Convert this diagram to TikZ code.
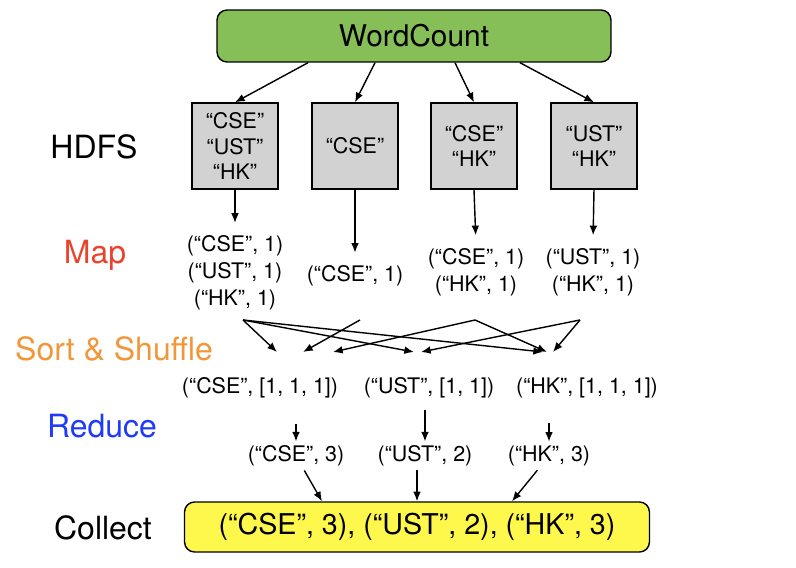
\documentclass[tikz,border=0pt]{standalone}
\usepackage{fontspec}
\setmainfont{TeX Gyre Heros}
\usetikzlibrary{arrows.meta,calc}

\definecolor{vertwc}{RGB}{134,191,87}
\definecolor{grisbox}{RGB}{210,210,210}
\definecolor{jaunecl}{RGB}{255,248,76}
\definecolor{rougemap}{RGB}{234,67,44}
\definecolor{orangess}{RGB}{241,151,58}
\definecolor{bleured}{RGB}{31,58,250}

\begin{document}
\begin{tikzpicture}[x=0.02cm,y=-0.02cm,line width=0.8pt,
  >={Latex[length=5.5pt,width=4.4pt]},
  boite/.style={draw,fill=grisbox,minimum size=1.72cm,align=center,
    font=\fontsize{12.2}{14.7}\selectfont},
  paire/.style={align=center,inner sep=2pt,font=\fontsize{12.2}{15.3}\selectfont},
  etape/.style={text height=13.1pt,text depth=0pt,font=\fontsize{18.2}{20}\selectfont}]

\useasboundingbox (0,0) rectangle (796,568);

% Boîte WordCount
\node[draw,fill=vertwc,rounded corners=0.2cm,minimum width=7.88cm,minimum height=1.04cm,
  font=\fontsize{17}{20}\selectfont] (wc) at (414,36) {WordCount};

% Étapes
\node[etape] (hdfs) at (94,147) {HDFS};
\node[etape,text=rougemap] (map) at (95,252) {Map};
\node[etape,text=orangess] (sort) at (114,349) {Sort \& Shuffle};
\node[etape,text=bleured] (reduce) at (102,426) {Reduce};
\node[etape] (collect) at (103,528) {Collect};

% Blocs HDFS
\node[boite] (h1) at (235,146) {“CSE”\\“UST”\\“HK”};
\node[boite] (h2) at (355,146) {“CSE”};
\node[boite] (h3) at (474,146) {“CSE”\\“HK”};
\node[boite] (h4) at (594,146) {“UST”\\“HK”};

\draw[->] ([xshift=-2.12cm]wc.south) -- (h1.north);
\draw[->] ([xshift=-0.78cm]wc.south) -- (h2.north);
\draw[->] ([xshift=0.82cm]wc.south) -- (h3.north);
\draw[->] ([xshift=2.12cm]wc.south) -- (h4.north);

% Map
\node[paire] (m1) at (235,273) {(“CSE”, 1)\\(“UST”, 1)\\(“HK”, 1)};
\node[paire] (m2) at (355,276) {(“CSE”, 1)};
\node[paire] (m3) at (476,272) {(“CSE”, 1)\\(“HK”, 1)};
\node[paire] (m4) at (593,272) {(“UST”, 1)\\(“HK”, 1)};

\draw[->,shorten >=5pt] (h1.south) -- (m1.north);
\draw[->,shorten >=5pt] (h2.south) -- (m2.north);
\draw[->,shorten >=5pt] (h3.south) -- (m3.north);
\draw[->,shorten >=5pt] (h4.south) -- (m4.north);

% Sort & Shuffle
\coordinate (s1) at (243,320);
\coordinate (s2) at (360,320);
\coordinate (s3) at (475,320);
\coordinate (s4) at (580,320);
\coordinate (c1) at (277,352);
\coordinate (c2) at (303,352);
\coordinate (c3) at (333,352);
\coordinate (u1) at (414,352);
\coordinate (u2) at (421,352);
\coordinate (k1) at (543,352);
\coordinate (k2) at (547,352);
\coordinate (k3) at (553,352);

\draw[->] (s1) -- (c1);
\draw[->] (s1) -- (u1);
\draw[->] (s1) -- (k1);
\draw[->] (s2) -- (c2);
\draw[->] (s3) -- (c3);
\draw[->] (s3) -- (k2);
\draw[->] (s4) -- (u2);
\draw[->] (s4) -- (k3);

% Reduce
\node[paire] (r1) at (260,388) {(“CSE”, [1, 1, 1])};
\node[paire] (r2) at (429,388) {(“UST”, [1, 1])};
\node[paire] (r3) at (587,388) {(“HK”, [1, 1, 1])};

\node[paire] (o1) at (296,456) {(“CSE”, 3)};
\node[paire] (o2) at (425,456) {(“UST”, 2)};
\node[paire] (o3) at (549,456) {(“HK”, 3)};

\draw[->,shorten <=12pt] (r1.south -| o1) -- (o1);
\draw[->,shorten <=4pt] (r2.south -| o2) -- (o2);
\draw[->,shorten <=12pt] (r3.south -| o3) -- (o3);

% Collect
\node[draw,fill=jaunecl,rounded corners=0.2cm,minimum width=9.3cm,minimum height=1cm,
  font=\fontsize{16.3}{19}\selectfont] (cl) at (417,527) {(“CSE”, 3), (“UST”, 2), (“HK”, 3)};

\draw[->] (o1) -- ([xshift=-1.9cm]cl.north);
\draw[->] (o2.south -| cl.north) -- (cl.north);
\draw[->] (o3) -- ([xshift=1.9cm]cl.north);

\end{tikzpicture}
\end{document}
